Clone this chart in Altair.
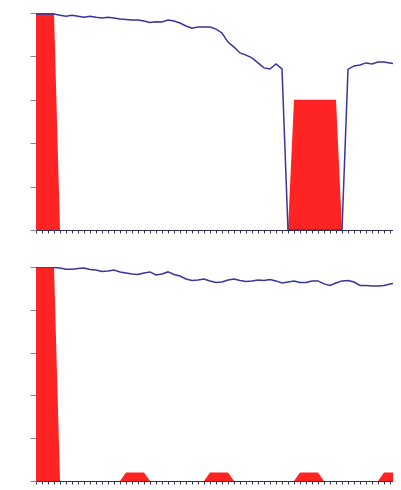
import altair as alt
import pandas as pd

idx = list(range(62))

top_red = [100, 100, 100, 100, 0, 0, 0, 0, 0, 0,
           0, 0, 0, 0, 0, 0, 0, 0, 0, 0,
           0, 0, 0, 0, 0, 0, 0, 0, 0, 0,
           0, 0, 0, 0, 0, 0, 0, 0, 0, 0,
           0, 0, 0, 60, 60, 60, 60, 60, 60, 60,
           60, 0, 0, 0, 0, 0, 0, 0, 0, 0,
           0, 0]
top_blue = [99.5, 99.5, 99.5, 99.5, 99, 98.5, 99, 98.5, 98, 98.5,
            98, 97.7, 98, 97.7, 97.2, 97, 96.8, 96.8, 96.3, 95.6,
            96, 95.9, 96.8, 96.3, 95.4, 94, 93, 93.5, 93.5, 93.5,
            92.6, 90.8, 86.6, 84.3, 81.6, 80.6, 79.3, 77, 74.7, 74.2,
            76.5, 74.2, 0, 0, 0, 0, 0, 0, 0, 0,
            0, 0, 74, 75.6, 76, 77, 76.5, 77.4, 77.4, 77,
            76.5, 75.6]
bot_red = [100, 100, 100, 100, 0, 0, 0, 0, 0, 0,
           0, 0, 0, 0, 0, 4, 4, 4, 4, 0,
           0, 0, 0, 0, 0, 0, 0, 0, 0, 4,
           4, 4, 4, 0, 0, 0, 0, 0, 0, 0,
           0, 0, 0, 0, 4, 4, 4, 4, 0, 0,
           0, 0, 0, 0, 0, 0, 0, 0, 4, 4,
           4, 4]
bot_blue = [100, 100, 100, 99.8, 99.5, 99, 99, 99.3, 99.5, 98.8,
            98.6, 97.9, 98.1, 98.6, 97.7, 97.2, 96.7, 96.5, 97.2, 97.7,
            96.3, 96.7, 97.7, 96.5, 95.8, 94.4, 93.7, 93.9, 94.4, 93.5,
            92.8, 93, 93.9, 94.4, 93.7, 93.2, 93.5, 93.9, 93.7, 94.2,
            93.5, 92.5, 93, 93.5, 92.8, 92.8, 93.5, 93.5, 92.1, 91.4,
            92.5, 93.5, 93.7, 93, 91.4, 91.4, 91.1, 91.1, 91.4, 92.1,
            92.5, 92.8]

RED = "#ff2424"
BLUE = "#36369c"

X_MAX = 59.5
tick_vals = [v for v in idx if v <= X_MAX]


def panel(red, blue, h):
    df = pd.DataFrame({"i": idx, "red": red, "blue": blue})
    x = alt.X("i:Q", scale=alt.Scale(domain=[0, X_MAX], nice=False, zero=False),
              axis=alt.Axis(values=tick_vals, labels=False, title=None, grid=False,
                            domain=True, domainColor="#333355", domainWidth=1,
                            tickColor="#333355", tickSize=3, tickWidth=1))
    yax = alt.Axis(values=[0, 20, 40, 60, 80, 100], labels=False, title=None,
                   grid=False, domain=False, tickColor="#888888", tickSize=6,
                   tickWidth=1)
    area = alt.Chart(df).mark_area(color=RED, opacity=1, clip=True).encode(
        x=x,
        y=alt.Y("red:Q", scale=alt.Scale(domain=[0, 100], nice=False), axis=yax),
    )
    line = alt.Chart(df).mark_line(color=BLUE, strokeWidth=1.5, clip=True).encode(
        x=x,
        y=alt.Y("blue:Q", scale=alt.Scale(domain=[0, 100], nice=False), axis=yax),
    )
    return alt.layer(area, line).properties(width=357, height=h)


chart = alt.vconcat(
    panel(top_red, top_blue, 217),
    panel(bot_red, bot_blue, 214),
    spacing=32,
).properties(
    padding={"left": 21, "top": 4, "right": 0, "bottom": 0},
).configure(background="white").configure_view(stroke=None)

chart.save("out.html", embed_options={"renderer": "svg", "actions": False})
